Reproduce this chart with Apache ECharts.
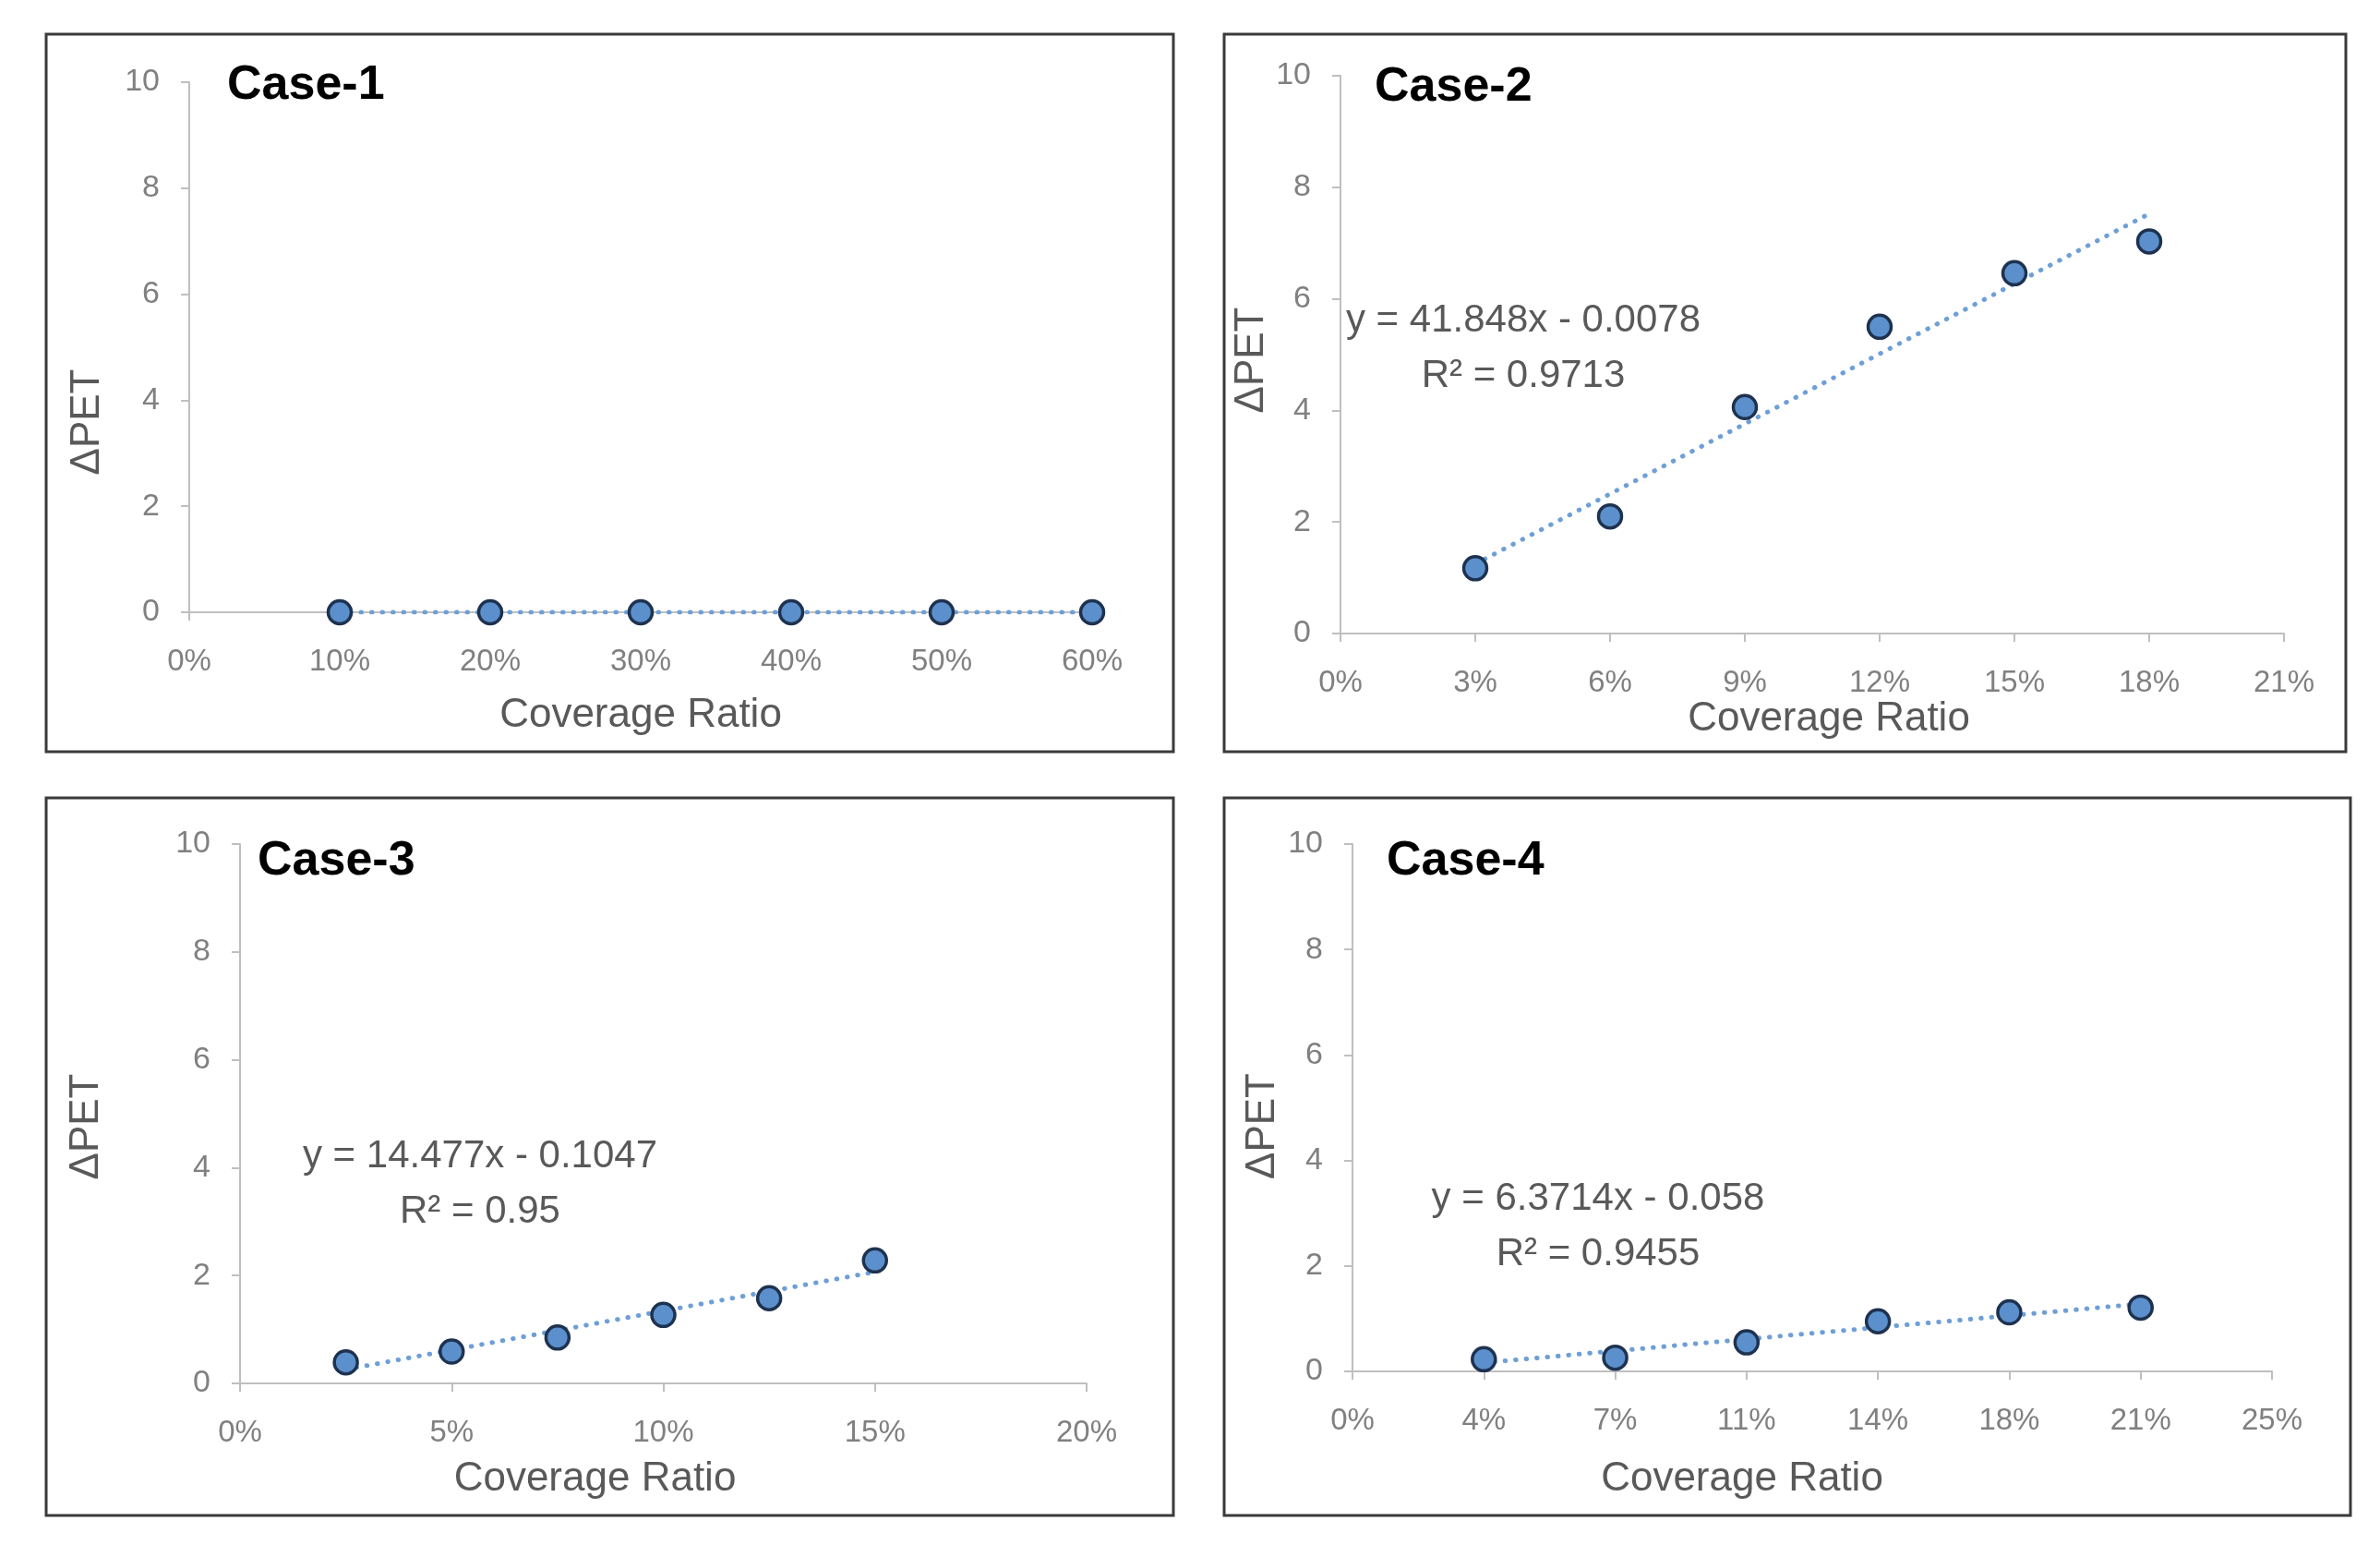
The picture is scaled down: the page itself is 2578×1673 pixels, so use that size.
<!DOCTYPE html>
<html>
<head>
<meta charset="utf-8">
<script src="https://cdn.jsdelivr.net/npm/echarts@6/dist/echarts.min.js"></script>
<style>
html,body{margin:0;padding:0;background:#fff;}
#chart{width:2578px;height:1673px;}
</style>
</head>
<body>
<div id="chart"></div>
<script>
// ---- data ----
const caseNames = ['Case-1', 'Case-2', 'Case-3', 'Case-4'];
const xAxisMax = [0.6, 0.21, 0.2, 0.245];
const xAxisInterval = [0.1, 0.03, 0.05, 0.035];
const yTicks = [0, 2, 4, 6, 8, 10];

const case1X = [0.10, 0.20, 0.30, 0.40, 0.50, 0.60];
const case1Y = [0, 0, 0, 0, 0, 0];
const case2X = [0.03, 0.06, 0.09, 0.12, 0.15, 0.18];
const case2Y = [1.17, 2.10, 4.06, 5.50, 6.46, 7.03];
const case3X = [0.025, 0.05, 0.075, 0.10, 0.125, 0.15];
const case3Y = [0.39, 0.59, 0.85, 1.27, 1.58, 2.28];
const case4X = [0.035, 0.07, 0.105, 0.14, 0.175, 0.21];
const case4Y = [0.23, 0.26, 0.55, 0.95, 1.12, 1.21];

const trendSlope = [0, 41.848, 14.477, 6.3714];
const trendIntercept = [0, -0.0078, -0.1047, -0.058];
const equationText = ['', 'y = 41.848x - 0.0078', 'y = 14.477x - 0.1047', 'y = 6.3714x - 0.058'];
const r2Text = ['', 'R² = 0.9713', 'R² = 0.95', 'R² = 0.9455'];
const xTitle = 'Coverage Ratio';
const yTitle = 'ΔPET';

// ---- layout ----
const xs = [case1X, case2X, case3X, case4X];
const ys = [case1Y, case2Y, case3Y, case4Y];
const grids = [
  {left: 205, top: 89, width: 978, height: 574},
  {left: 1452, top: 82, width: 1022, height: 604},
  {left: 260, top: 914, width: 917, height: 584},
  {left: 1465, top: 914, width: 996, height: 571}
];
const boxes = [
  {x: 50, y: 37, w: 1221, h: 777},
  {x: 1326, y: 37, w: 1215, h: 777},
  {x: 50, y: 864, w: 1221, h: 777},
  {x: 1326, y: 864, w: 1220, h: 777}
];
const titlePos = [[241, 92], [1484, 94], [274, 932], [1497, 932]];
const xNameGap = [90, 67, 82, 95];
const xNamePad = [[0, 0, 0, 0], [0, 0, 0, 36], [0, 148, 0, 0], [0, 152, 0, 0]];
const yNameGap = [88, 62, 144, 75];
const yNamePad = [[0, 162, 0, 0], [0, 12, 0, 0], [0, 28, 0, 0], [0, 40, 0, 0]];
const eqPos = [null, [1650, 377], [520, 1282], [1731, 1328]];

const font = '"Liberation Sans", Arial, sans-serif';
const axisGray = '#BFBFBF';
const labelGray = '#808080';
const titleGray = '#595959';

const option = {
  backgroundColor: '#ffffff',
  animation: false,
  textStyle: {fontFamily: font},
  grid: grids.map(g => Object.assign({containLabel: false}, g)),
  xAxis: grids.map((g, i) => ({
    type: 'value', gridIndex: i, min: 0, max: xAxisMax[i], interval: xAxisInterval[i],
    name: xTitle, nameLocation: 'middle', nameGap: xNameGap[i],
    nameTextStyle: {fontSize: 44, color: titleGray, fontFamily: font, padding: xNamePad[i]},
    axisLine: {show: true, onZero: false, lineStyle: {color: axisGray, width: 2}},
    axisTick: {show: true, length: 9, lineStyle: {color: axisGray, width: 2}},
    splitLine: {show: false},
    axisLabel: {fontSize: 33, color: labelGray, margin: 37, fontFamily: font,
      formatter: v => Math.round(v * 100 + 1e-9) + '%'}
  })),
  yAxis: grids.map((g, i) => ({
    type: 'value', gridIndex: i, min: yTicks[0], max: yTicks[yTicks.length - 1], interval: yTicks[1] - yTicks[0],
    name: yTitle, nameLocation: 'middle', nameGap: yNameGap[i], nameRotate: 90,
    nameTextStyle: {fontSize: 44, color: titleGray, fontFamily: font, padding: yNamePad[i]},
    axisLine: {show: true, lineStyle: {color: axisGray, width: 2}},
    axisTick: {show: true, length: 9, lineStyle: {color: axisGray, width: 2}},
    splitLine: {show: false},
    axisLabel: {fontSize: 34, color: labelGray, margin: 32, fontFamily: font}
  })),
  title: caseNames.map((n, i) => ({
    text: n, left: titlePos[i][0], top: titlePos[i][1] - 30,
    textStyle: {fontSize: 52, fontWeight: 'bold', color: '#000', fontFamily: font}
  })),
  series: [],
  graphic: []
};

for (let i = 0; i < 4; i++) {
  const x0 = xs[i][0], x1 = xs[i][xs[i].length - 1];
  option.series.push({
    type: 'line', xAxisIndex: i, yAxisIndex: i, symbol: 'none', silent: true, z: 2,
    lineStyle: {color: '#6E9FD6', width: 5, type: [0.5, 11], cap: 'round'},
    data: [[x0, trendSlope[i] * x0 + trendIntercept[i]], [x1, trendSlope[i] * x1 + trendIntercept[i]]]
  });
  option.series.push({
    type: 'scatter', xAxisIndex: i, yAxisIndex: i, symbol: 'circle', symbolSize: 25, z: 3,
    itemStyle: {color: '#5B90CC', borderColor: '#1E3250', borderWidth: 3.5, opacity: 1},
    data: xs[i].map((x, k) => [x, ys[i][k]])
  });
  const b = boxes[i];
  option.graphic.push({
    type: 'rect', shape: {x: b.x, y: b.y, width: b.w, height: b.h},
    style: {fill: 'none', stroke: '#3A3A3A', lineWidth: 3}, z: 0, silent: true
  });
  if (eqPos[i]) {
    option.graphic.push({
      type: 'text', x: eqPos[i][0], y: eqPos[i][1], z: 5,
      style: {text: equationText[i] + '\n' + r2Text[i], fontSize: 42, lineHeight: 60,
        fill: titleGray, align: 'center', verticalAlign: 'middle', fontFamily: font}
    });
  }
}

const chart = echarts.init(document.getElementById('chart'));
chart.setOption(option);
</script>
</body>
</html>
